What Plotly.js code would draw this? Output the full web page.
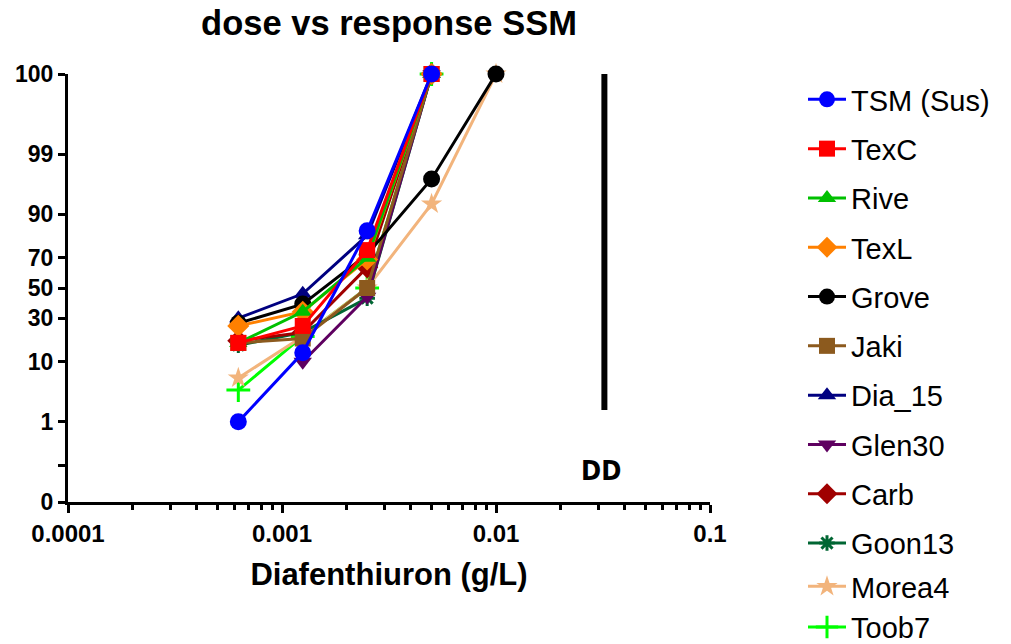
<!DOCTYPE html>
<html>
<head>
<meta charset="utf-8">
<script src="https://cdn.plot.ly/plotly-3.0.1.min.js"></script>
<style>html,body{margin:0;padding:0;background:#fff;}#chart{width:1011px;height:644px;}</style>
</head>
<body>
<div id="chart"></div>
<script>
// ---- data ----
const doses = [0.000625, 0.00125, 0.0025, 0.005, 0.01];
const seriesNames = ["TSM (Sus)", "TexC", "Rive", "TexL", "Grove", "Jaki", "Dia_15", "Glen30", "Carb", "Goon13", "Morea4", "Toob7"];
const TSM = [1, 13, 84, 100, null];
const TexC = [17, 25.5, 74.5, 100, null];
const Rive = [17, 34, 70, 100, null];
const TexL = [25.5, 34, 69, 100, null];
const Grove = [27, 39, 72, 97.1, 100];
const Jaki = [17, 19, 50, 100, null];
const Dia_15 = [30, 46, 82, 100, null];
const Glen30 = [null, 10, 44, 100, null];
const Carb = [18, 22, 64, 100, null];
const Goon13 = [16, 22, 43, 100, null];
const Morea4 = [5.9, 20, 50, 92.8, 100];
const Toob7 = [3.8, 20, 50, 100, null];
const yTickLabels = ["0", "1", "10", "30", "50", "70", "90", "99", "100"];
const yTickPercents = [0, 1, 10, 30, 50, 70, 90, 99, 100];
const xTickVals = [0.0001, 0.001, 0.01, 0.1];
const xTickLabels = ["0.0001", "0.001", "0.01", "0.1"];

const seriesValues = [TSM, TexC, Rive, TexL, Grove, Jaki, Dia_15, Glen30, Carb, Goon13, Morea4, Toob7];
const colors = ["#0000FF", "#FF0000", "#00C000", "#FF8000", "#000000", "#8C5A1E", "#000080", "#5E0060", "#A00000", "#006633", "#F2B47C", "#00FF00"];
const symbols = ["circle", "square", "triangle-up", "diamond", "circle", "square", "triangle-up", "triangle-down", "diamond", "asterisk-open", "star", "cross-thin-open"];
const sizes = [17, 16, 16, 17, 17, 16, 16, 16, 17, 13, 16, 17];

// probit scale (inverse normal CDF, Acklam)
function invNorm(p) {
  const a = [-3.969683028665376e+01, 2.209460984245205e+02, -2.759285104469687e+02, 1.383577518672690e+02, -3.066479806614716e+01, 2.506628277459239e+00];
  const b = [-5.447609879822406e+01, 1.615858368580409e+02, -1.556989798598866e+02, 6.680131188771972e+01, -1.328068155288572e+01];
  const c = [-7.784894002430293e-03, -3.223964580411365e-01, -2.400758277161838e+00, -2.549732539343734e+00, 4.374664141464968e+00, 2.938163982698783e+00];
  const d = [7.784695709041462e-03, 3.224671290700398e-01, 2.445134137142996e+00, 3.754408661907416e+00];
  const pl = 0.02425, ph = 1 - pl;
  let q, r;
  if (p < pl) { q = Math.sqrt(-2 * Math.log(p)); return (((((c[0]*q+c[1])*q+c[2])*q+c[3])*q+c[4])*q+c[5]) / ((((d[0]*q+d[1])*q+d[2])*q+d[3])*q+1); }
  if (p <= ph) { q = p - 0.5; r = q*q; return (((((a[0]*r+a[1])*r+a[2])*r+a[3])*r+a[4])*r+a[5])*q / (((((b[0]*r+b[1])*r+b[2])*r+b[3])*r+b[4])*r+1); }
  q = Math.sqrt(-2 * Math.log(1 - p)); return -(((((c[0]*q+c[1])*q+c[2])*q+c[3])*q+c[4])*q+c[5]) / ((((d[0]*q+d[1])*q+d[2])*q+d[3])*q+1);
}
function probit(pct) {
  if (pct === null) return null;
  let p = pct / 100;
  p = Math.min(Math.max(p, 0.0001), 0.9999);
  return invNorm(p);
}

const traces = [];
for (let i = seriesNames.length - 1; i >= 0; i--) {
  const open = symbols[i].indexOf("open") >= 0;
  traces.push({
    type: "scatter", mode: "lines+markers",
    name: seriesNames[i], legendgroup: "g" + i, legendrank: i + 1,
    legend: i >= 10 ? "legend2" : "legend",
    x: doses, y: seriesValues[i].map(probit),
    connectgaps: false,
    line: {color: colors[i], width: 3},
    marker: {symbol: symbols[i], size: sizes[i], color: colors[i], line: {color: colors[i], width: open ? 3 : 0}},
    cliponaxis: false
  });
}

const yMin = probit(0), yMax = probit(100);
const minorX = [];
for (let e = -4; e < -1; e++) for (let k = 2; k <= 9; k++) minorX.push(k * Math.pow(10, e));

const legendBase = {xref: "container", yref: "container", x: 803/1011, xanchor: "left", yanchor: "top", maxheight: 1000,
                    traceorder: "grouped", font: {size: 29, color: "#000"}, itemwidth: 38, bgcolor: "rgba(0,0,0,0)"};

const layout = {
  width: 1011, height: 644,
  margin: {l: 68, r: 301, t: 74, b: 142},
  paper_bgcolor: "#fff", plot_bgcolor: "#fff",
  font: {family: "Liberation Sans, Arial, sans-serif", color: "#000"},
  title: {text: "<b>dose vs response SSM</b>", font: {size: 34.5, color: "#000"}, x: 389/1011, xanchor: "center", xref: "container", y: 1 - 23/644, yanchor: "middle", yref: "container"},
  showlegend: true,
  legend: Object.assign({}, legendBase, {y: 1 - 74/644, tracegroupgap: 8.6}),
  legend2: Object.assign({}, legendBase, {y: 1 - 561/644, tracegroupgap: 0}),
  xaxis: {type: "log", range: [-4, -1], showgrid: false, zeroline: false, showline: true, linecolor: "#000", linewidth: 3,
          tickmode: "array", tickvals: xTickVals, ticktext: xTickLabels.map(s => "<b>" + s + "</b>"),
          ticks: "outside", ticklen: 8, tickwidth: 3, tickcolor: "#000", tickfont: {size: 24, color: "#000"},
          minor: {tickmode: "array", tickvals: minorX, ticks: "outside", ticklen: 5, tickwidth: 3, tickcolor: "#000", showgrid: false},
          title: {text: "<b>Diafenthiuron (g/L)</b>", font: {size: 31, color: "#000"}, standoff: 18}},
  yaxis: {range: [yMin, yMax], showgrid: false, zeroline: false, showline: true, linecolor: "#000", linewidth: 3,
          tickmode: "array", tickvals: yTickPercents.map(probit), ticktext: yTickLabels.map(s => "<b>" + s + "</b>"),
          ticks: "outside", ticklen: 7, tickwidth: 3, tickcolor: "#000", tickfont: {size: 23, color: "#000"},
          minor: {tickmode: "array", tickvals: [probit(0.1)], ticks: "outside", ticklen: 7, tickwidth: 3, tickcolor: "#000", showgrid: false}},
  shapes: [{type: "line", xref: "x", yref: "y", x0: 0.0321, x1: 0.0321, y0: yMax, y1: probit(1.7), line: {color: "#000", width: 6}}],
  annotations: [{text: "<b>DD</b>", xref: "x", yref: "y", x: -1.509, y: probit(0.078), showarrow: false,
                 font: {family: "DejaVu Sans Condensed, Roboto, sans-serif", size: 27, color: "#000"}}]
};

Plotly.newPlot("chart", traces, layout, {displayModeBar: false, staticPlot: true});
</script>
</body>
</html>
